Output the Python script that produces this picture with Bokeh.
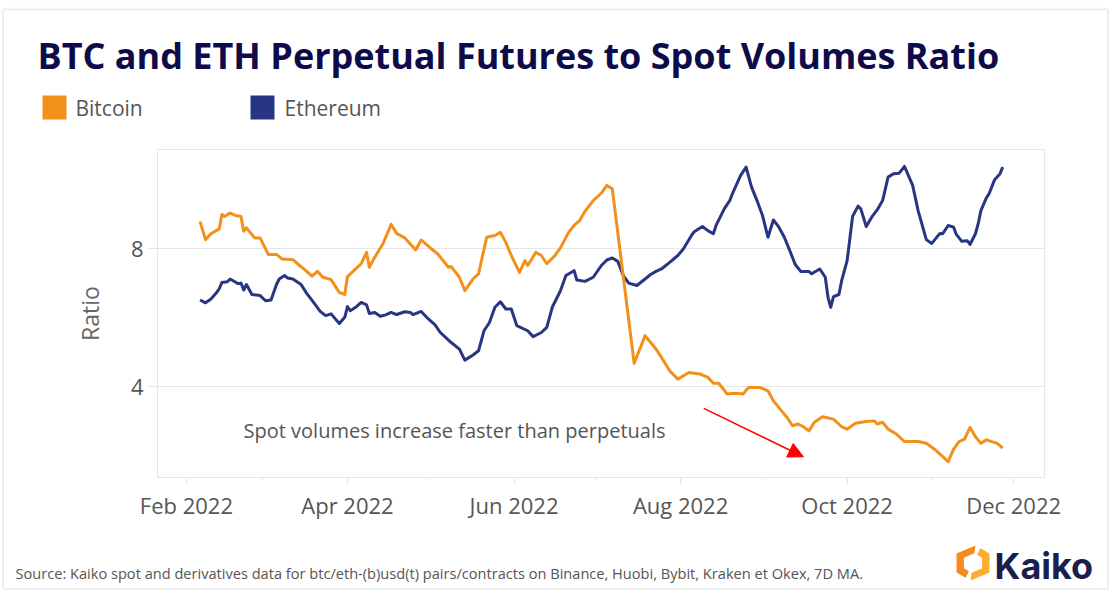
import math
import pandas as pd
from bokeh.plotting import figure
from bokeh.layouts import column
from bokeh.models import (ColumnDataSource, Range1d, FixedTicker, DatetimeTickFormatter,
                          Label, Arrow, NormalHead)
from bokeh.core.properties import value
from bokeh.embed import file_html
from bokeh.resources import INLINE

# ---------------- data ----------------
btc_dates = [
    "2022-02-06", "2022-02-08", "2022-02-10", "2022-02-13", "2022-02-14", "2022-02-15", "2022-02-17",
    "2022-02-19", "2022-02-21", "2022-02-22", "2022-02-23", "2022-02-26", "2022-02-28",
    "2022-03-03", "2022-03-06", "2022-03-08", "2022-03-12", "2022-03-14", "2022-03-16", "2022-03-19",
    "2022-03-21", "2022-03-23", "2022-03-26", "2022-03-29", "2022-03-31",
    "2022-04-01", "2022-04-04", "2022-04-06", "2022-04-08", "2022-04-09", "2022-04-11", "2022-04-14",
    "2022-04-17", "2022-04-19", "2022-04-22", "2022-04-26", "2022-04-28",
    "2022-05-01", "2022-05-04", "2022-05-08", "2022-05-09", "2022-05-12", "2022-05-14", "2022-05-17",
    "2022-05-19", "2022-05-22", "2022-05-25", "2022-05-27", "2022-05-29", "2022-05-31",
    "2022-06-03", "2022-06-05", "2022-06-06", "2022-06-09", "2022-06-11", "2022-06-13", "2022-06-16",
    "2022-06-18", "2022-06-21", "2022-06-23", "2022-06-25", "2022-06-27", "2022-06-30",
    "2022-07-03", "2022-07-05", "2022-07-07", "2022-07-15", "2022-07-19", "2022-07-20", "2022-07-23",
    "2022-07-25", "2022-07-28", "2022-07-31",
    "2022-08-04", "2022-08-08", "2022-08-11", "2022-08-13", "2022-08-15", "2022-08-18", "2022-08-21",
    "2022-08-24", "2022-08-25", "2022-08-26", "2022-08-30",
    "2022-09-02", "2022-09-04", "2022-09-07", "2022-09-09", "2022-09-11", "2022-09-13", "2022-09-15",
    "2022-09-17", "2022-09-19", "2022-09-22", "2022-09-26", "2022-09-29",
    "2022-10-01", "2022-10-04", "2022-10-08", "2022-10-11", "2022-10-12", "2022-10-14", "2022-10-16",
    "2022-10-19", "2022-10-22", "2022-10-27", "2022-10-30",
    "2022-11-02", "2022-11-04", "2022-11-07", "2022-11-09", "2022-11-11", "2022-11-13", "2022-11-15",
    "2022-11-17", "2022-11-19", "2022-11-21", "2022-11-25", "2022-11-27",
]
btc_values = [
    8.78, 8.26, 8.43, 8.57, 8.99, 8.93, 9.03, 8.96, 8.93, 8.50, 8.60, 8.31, 8.31,
    7.83, 7.83, 7.70, 7.68, 7.54, 7.41, 7.20, 7.34, 7.17, 7.10, 6.73, 6.67,
    7.19, 7.41, 7.56, 7.89, 7.46, 7.75, 8.14, 8.70, 8.44, 8.31, 7.96, 8.25,
    8.04, 7.85, 7.46, 7.48, 7.17, 6.78, 7.12, 7.27, 8.33, 8.38, 8.47, 8.18, 7.80,
    7.31, 7.65, 7.51, 7.89, 7.80, 7.56, 7.80, 8.02, 8.47, 8.67, 8.81, 9.08, 9.39,
    9.61, 9.83, 9.73, 4.68, 5.48, 5.38, 5.09, 4.85, 4.46, 4.22,
    4.41, 4.37, 4.27, 4.10, 4.10, 3.79, 3.81, 3.79, 3.90, 3.98, 3.98,
    3.88, 3.59, 3.30, 3.11, 2.87, 2.92, 2.84, 2.72, 2.97, 3.13, 3.06, 2.84,
    2.77, 2.94, 2.99, 3.01, 2.92, 2.97, 2.77, 2.63, 2.41, 2.41, 2.36,
    2.19, 2.05, 1.83, 2.19, 2.41, 2.48, 2.82, 2.55, 2.36, 2.46, 2.36, 2.22,
]

eth_dates = [
    "2022-02-06", "2022-02-08", "2022-02-10", "2022-02-12", "2022-02-13", "2022-02-14", "2022-02-16",
    "2022-02-17", "2022-02-20", "2022-02-21", "2022-02-22", "2022-02-23", "2022-02-25", "2022-02-28",
    "2022-03-02", "2022-03-04", "2022-03-06", "2022-03-07", "2022-03-09", "2022-03-10", "2022-03-12",
    "2022-03-15", "2022-03-17", "2022-03-20", "2022-03-22", "2022-03-24", "2022-03-26", "2022-03-29",
    "2022-03-31",
    "2022-04-01", "2022-04-02", "2022-04-04", "2022-04-06", "2022-04-08", "2022-04-09", "2022-04-11",
    "2022-04-13", "2022-04-15", "2022-04-17", "2022-04-19", "2022-04-22", "2022-04-24", "2022-04-25",
    "2022-04-28", "2022-04-30",
    "2022-05-03", "2022-05-05", "2022-05-08", "2022-05-09", "2022-05-12", "2022-05-14", "2022-05-17",
    "2022-05-19", "2022-05-21", "2022-05-23", "2022-05-25", "2022-05-27", "2022-05-29", "2022-05-31",
    "2022-06-02", "2022-06-06", "2022-06-08", "2022-06-11", "2022-06-13", "2022-06-15", "2022-06-18",
    "2022-06-20", "2022-06-23", "2022-06-24", "2022-06-27", "2022-06-30",
    "2022-07-03", "2022-07-05", "2022-07-07", "2022-07-09", "2022-07-11", "2022-07-13", "2022-07-16",
    "2022-07-19", "2022-07-21", "2022-07-23", "2022-07-25", "2022-07-28", "2022-07-31",
    "2022-08-02", "2022-08-05", "2022-08-06", "2022-08-09", "2022-08-11", "2022-08-13", "2022-08-14",
    "2022-08-17", "2022-08-19", "2022-08-20", "2022-08-23", "2022-08-25", "2022-08-27", "2022-08-29",
    "2022-08-31",
    "2022-09-02", "2022-09-04", "2022-09-06", "2022-09-08", "2022-09-10", "2022-09-12", "2022-09-14",
    "2022-09-17", "2022-09-18", "2022-09-21", "2022-09-23", "2022-09-24", "2022-09-25", "2022-09-26",
    "2022-09-28", "2022-09-29",
    "2022-10-01", "2022-10-03", "2022-10-05", "2022-10-06", "2022-10-08", "2022-10-10", "2022-10-12",
    "2022-10-14", "2022-10-16", "2022-10-18", "2022-10-20", "2022-10-22", "2022-10-25", "2022-10-27",
    "2022-10-30",
    "2022-11-01", "2022-11-04", "2022-11-05", "2022-11-07", "2022-11-09", "2022-11-10", "2022-11-12",
    "2022-11-14", "2022-11-15", "2022-11-17", "2022-11-18", "2022-11-19", "2022-11-21", "2022-11-22",
    "2022-11-24", "2022-11-26", "2022-11-27",
]
eth_values = [
    6.51, 6.43, 6.54, 6.72, 6.83, 7.02, 7.04, 7.12, 6.98, 7.00, 6.80, 6.96, 6.67, 6.64,
    6.49, 6.51, 6.96, 7.12, 7.22, 7.15, 7.12, 6.96, 6.71, 6.40, 6.18, 6.06, 6.11, 5.83, 6.01,
    6.32, 6.20, 6.30, 6.44, 6.37, 6.12, 6.15, 6.04, 6.08, 6.15, 6.09, 6.17, 6.15, 6.09, 6.18, 6.01,
    5.80, 5.57, 5.35, 5.28, 5.09, 4.77, 4.92, 5.04, 5.62, 5.86, 6.30, 6.46, 6.25, 6.25,
    5.77, 5.62, 5.45, 5.57, 5.72, 6.30, 6.78, 7.22, 7.36, 7.09, 7.05, 7.17,
    7.51, 7.67, 7.73, 7.63, 7.22, 7.00, 6.93, 7.12, 7.25, 7.34, 7.41, 7.60, 7.80,
    7.99, 8.38, 8.49, 8.64, 8.52, 8.43, 8.67, 9.15, 9.39, 9.59, 10.12, 10.36, 9.78, 9.39, 8.96,
    8.33, 8.83, 8.62, 8.33, 7.94, 7.54, 7.34, 7.34, 7.27, 7.41, 7.17, 6.59, 6.30, 6.61, 6.67, 7.07,
    7.65, 8.93, 9.23, 9.15, 8.64, 8.91, 9.12, 9.39, 10.07, 10.17, 10.18, 10.38, 9.83, 9.10, 8.26,
    8.15, 8.44, 8.43, 8.67, 8.62, 8.41, 8.21, 8.23, 8.12, 8.43, 8.72, 9.10, 9.47, 9.59, 9.99, 10.17, 10.36,
]

series_names = ["Bitcoin", "Ethereum"]
series_colors = ["#f39019", "#283582"]
y_ticks = [4, 8]
x_major_ticks = ["2022-02-01", "2022-04-01", "2022-06-01", "2022-08-01", "2022-10-01", "2022-12-01"]
x_minor_ticks = ["2022-03-01", "2022-05-01", "2022-07-01", "2022-09-01", "2022-11-01"]
x_start, x_end = "2022-01-21 10:00", "2022-12-12 07:00"
y_min, y_max = 1.37, 10.87

title_text = "BTC and ETH Perpetual Futures to Spot Volumes Ratio"
note_text = "Spot volumes increase faster than perpetuals"
source_text = ("Source: Kaiko spot and derivatives data for btc/eth-(b)usd(t) pairs/contracts on "
               "Binance, Huobi, Bybit, Kraken et Okex, 7D MA.")
brand_text = "Kaiko"
arrow_start = ("2022-08-09 12:00", 3.37)
arrow_end = ("2022-09-15", 1.97)

FONT = "Open Sans"
TEXT_GREY = "#555555"
GRID = "#e6e6e6"

# card placement on the page (pixels)
LEFT0, TOP0 = 4, 10
RIGHT0, BOTTOM0 = 1107, 588
W = RIGHT0 - LEFT0
HEAD_END, MAIN_END = 130, 530
FL, FT, FR, FB = 157, 149, 1044, 477      # plot frame edges on the page


def ms(s):
    return pd.Timestamp(s).value / 1e6


def no_align(f):
    try:
        f.frame_align = False
    except Exception:
        pass


def blank(y_top, y_bottom):
    """A figure whose data coordinates equal page pixels (y grows downwards)."""
    f = figure(width=W, height=y_bottom - y_top, x_range=Range1d(LEFT0, LEFT0 + W),
               y_range=Range1d(y_bottom, y_top),
               x_axis_location=None, y_axis_location=None, output_backend="svg",
               toolbar_location=None, min_border=0)
    f.outline_line_color = None
    f.grid.visible = False
    f.background_fill_color = "white"
    f.border_fill_color = "white"
    no_align(f)
    return f


# ---------------- header: title + legend ----------------
head = blank(TOP0, HEAD_END)
head.text(x=[37], y=[55], text=[title_text], text_font=value(FONT), text_font_size="36px",
          text_font_style="bold", text_color="#0e0b4a", text_baseline="middle")
leg_x = [42, 250]
leg_tx = [75, 284]
head.quad(left=leg_x, right=[v + 24 for v in leg_x], top=[95, 95], bottom=[119, 119],
          fill_color=series_colors, line_color=None)
head.text(x=leg_tx, y=[107, 107], text=series_names, text_font=value(FONT), text_font_size="21px",
          text_color=TEXT_GREY, text_baseline="middle")

# ---------------- main chart ----------------


def sx(px):
    return px - FL


def sy(py):
    return FB - py


btc_src = ColumnDataSource(dict(x=pd.to_datetime(btc_dates), y=btc_values))
eth_src = ColumnDataSource(dict(x=pd.to_datetime(eth_dates), y=eth_values))

p = figure(width=W, height=MAIN_END - HEAD_END, x_axis_type="datetime",
           x_range=Range1d(ms(x_start), ms(x_end)), y_range=Range1d(y_min, y_max),
           output_backend="svg", toolbar_location=None,
           min_border_left=FL - LEFT0, min_border_right=LEFT0 + W - FR,
           min_border_top=FT - HEAD_END, min_border_bottom=MAIN_END - FB)
no_align(p)
p.background_fill_color = "white"
p.border_fill_color = "white"
p.outline_line_color = GRID

p.line("x", "y", source=eth_src, color=series_colors[1], line_width=3, line_join="round")
p.line("x", "y", source=btc_src, color=series_colors[0], line_width=3, line_join="round")

p.xaxis.ticker = FixedTicker(ticks=[ms(t) for t in x_major_ticks],
                             minor_ticks=[ms(t) for t in x_minor_ticks])
fmt = "%b %Y"
p.xaxis.formatter = DatetimeTickFormatter(microseconds=fmt, milliseconds=fmt, seconds=fmt, minsec=fmt,
                                          minutes=fmt, hourmin=fmt, hours=fmt, days=fmt,
                                          months=fmt, years=fmt)
p.xaxis.axis_line_color = GRID
p.xaxis.major_tick_line_color = GRID
p.xaxis.minor_tick_line_color = GRID
p.xaxis.major_tick_out = 7
p.xaxis.major_tick_in = 0
p.xaxis.minor_tick_out = 3
p.xaxis.minor_tick_in = 0
p.xaxis.major_label_standoff = 5
p.xgrid.grid_line_color = None

p.yaxis.ticker = FixedTicker(ticks=y_ticks, minor_ticks=[])
p.ygrid.ticker = FixedTicker(ticks=y_ticks)
p.ygrid.grid_line_color = GRID
p.yaxis.axis_line_color = None
p.yaxis.major_tick_line_color = GRID
p.yaxis.major_tick_out = 10
p.yaxis.major_tick_in = 0
p.yaxis.minor_tick_line_color = None
p.yaxis.major_label_standoff = 4
p.yaxis.axis_label = "Ratio"
p.yaxis.axis_label_standoff = 22

for ax in (p.xaxis[0], p.yaxis[0]):
    ax.major_label_text_font = FONT
    ax.major_label_text_font_size = "22px"
    ax.major_label_text_color = TEXT_GREY
    ax.axis_label_text_font = FONT
    ax.axis_label_text_font_size = "23px"
    ax.axis_label_text_color = "#666666"
    ax.axis_label_text_font_style = "normal"

p.add_layout(Label(x=sx(243), y=sy(430), x_units="screen", y_units="screen", text=note_text,
                   text_font=FONT, text_font_size="20px", text_color=TEXT_GREY, text_baseline="middle"))
p.add_layout(Arrow(x_start=ms(arrow_start[0]), y_start=arrow_start[1],
                   x_end=ms(arrow_end[0]), y_end=arrow_end[1],
                   line_color="#ff0000", line_width=1.5,
                   end=NormalHead(size=15, fill_color="#ff0000", line_color="#ff0000")))

# ---------------- footer: source + logo ----------------
foot = blank(MAIN_END, BOTTOM0)
foot.text(x=[15], y=[572], text=[source_text], text_font=value(FONT), text_font_size="14.6px",
          text_color=TEXT_GREY, text_baseline="middle")

cx, cy, R, r = 972.5, 562.5, 19.0, 10.5


def hexpt(rad, k):
    ang = math.radians(90 + 60 * k)
    return (cx + rad * math.cos(ang), cy - rad * math.sin(ang))


def mid(a, b, t):
    return (a[0] + (b[0] - a[0]) * t, a[1] + (b[1] - a[1]) * t)


O = [hexpt(R, k) for k in range(6)]
I = [hexpt(r, k) for k in range(6)]
left_piece = [mid(O[0], O[5], 0.15), O[1], O[2], mid(O[2], O[3], 0.55),
              mid(I[2], I[3], 0.55), I[2], I[1], mid(I[0], I[5], 0.15)]
right_piece = [mid(O[3], O[2], 0.15), O[4], O[5], mid(O[5], O[0], 0.55),
               mid(I[5], I[0], 0.55), I[5], I[4], mid(I[3], I[2], 0.15)]
foot.patches(xs=[[a for a, b in left_piece], [a for a, b in right_piece]],
             ys=[[b for a, b in left_piece], [b for a, b in right_piece]],
             fill_color=["#f28c1c", "#fbad2b"], line_color=None)
foot.text(x=[994], y=[565], text=[brand_text], text_font=value("Inter"), text_font_size="36px",
          text_font_style="bold", text_color="#1b1f4e", text_baseline="middle")

layout = column(head, p, foot, spacing=0, margin=(TOP0, 0, 0, LEFT0),
                styles={"box-shadow": "0 0 2px 1px rgba(0, 0, 0, 0.13)"})
open("out.html", "w").write(file_html(layout, INLINE))
